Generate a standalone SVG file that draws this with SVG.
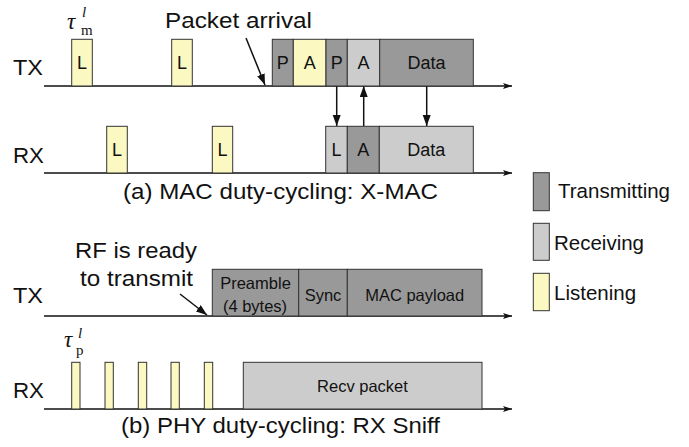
<svg xmlns="http://www.w3.org/2000/svg" width="689" height="447" viewBox="0 0 689 447">
<style>
.lbl{font-family:"Liberation Sans",Arial,sans-serif;font-size:22.5px;fill:#111}
.bx{font-family:"Liberation Sans",Arial,sans-serif;font-size:18px;fill:#111;text-anchor:middle}
.sm{font-family:"Liberation Sans",Arial,sans-serif;font-size:16.5px;fill:#111;text-anchor:middle}
.leg{font-family:"Liberation Sans",Arial,sans-serif;font-size:20.5px;fill:#111}
.tx{fill:#999999;stroke:#333;stroke-width:1}
.rx{fill:#cccccc;stroke:#333;stroke-width:1}
.ls{fill:#fbf8c2;stroke:#333;stroke-width:1}
.tl{stroke:#111;stroke-width:1.3;fill:none}
.ar{stroke:#111;stroke-width:1.5;fill:none}
.mt{font-family:"Liberation Serif","Times New Roman",serif;fill:#111}
</style>
<defs>
<marker id="tlh" markerUnits="userSpaceOnUse" markerWidth="10" markerHeight="8" refX="9" refY="3" orient="auto">
<path d="M0,0 L9,3 L0,6 L2,3 z" fill="#111"/>
</marker>
<marker id="ah" markerUnits="userSpaceOnUse" markerWidth="12" markerHeight="10" refX="11" refY="4" orient="auto">
<path d="M0,0 L11,4 L0,8 z" fill="#111"/>
</marker>
</defs>

<g id="connectors">
<line class="tl" x1="44" y1="86" x2="512" y2="86" marker-end="url(#tlh)"/>
<line class="tl" x1="44" y1="173" x2="512" y2="173" marker-end="url(#tlh)"/>
<line class="tl" x1="44" y1="316" x2="512" y2="316" marker-end="url(#tlh)"/>
<line class="tl" x1="44" y1="409" x2="512" y2="409" marker-end="url(#tlh)"/>
<line class="ar" x1="336.7" y1="86" x2="336.7" y2="126" marker-end="url(#ah)"/>
<line class="ar" x1="363.7" y1="126" x2="363.7" y2="86" marker-end="url(#ah)"/>
<line class="ar" x1="426.7" y1="86" x2="426.7" y2="126" marker-end="url(#ah)"/>
<line class="ar" x1="246" y1="38" x2="265" y2="85" marker-end="url(#ah)"/>
<line class="ar" x1="180" y1="294" x2="207" y2="315" marker-end="url(#ah)"/>
</g>

<g id="labels">
<text class="lbl" x="13" y="75" textLength="30" lengthAdjust="spacingAndGlyphs">TX</text>
<text class="lbl" x="13" y="163" textLength="31" lengthAdjust="spacingAndGlyphs">RX</text>
<text class="lbl" x="13" y="303" textLength="30" lengthAdjust="spacingAndGlyphs">TX</text>
<text class="lbl" x="13" y="398" textLength="31" lengthAdjust="spacingAndGlyphs">RX</text>
<text class="lbl" x="165" y="28" textLength="147" lengthAdjust="spacingAndGlyphs">Packet arrival</text>
<text class="lbl" x="75" y="258" textLength="122" lengthAdjust="spacingAndGlyphs">RF is ready</text>
<text class="lbl" x="80" y="286" textLength="113" lengthAdjust="spacingAndGlyphs">to transmit</text>
<text class="lbl" x="123" y="199" textLength="315" lengthAdjust="spacingAndGlyphs">(a) MAC duty-cycling: X-MAC</text>
<text class="lbl" x="121" y="433" textLength="319" lengthAdjust="spacingAndGlyphs">(b) PHY duty-cycling: RX Sniff</text>
</g>

<g id="tau-m">
<text class="mt" x="67" y="29" font-size="23" font-style="italic">τ</text>
<text class="mt" x="82" y="17" font-size="15" font-style="italic">l</text>
<text class="mt" x="81" y="35" font-size="15">m</text>
</g>
<g id="tau-p">
<text class="mt" x="64" y="347" font-size="23" font-style="italic">τ</text>
<text class="mt" x="78" y="338" font-size="15" font-style="italic">l</text>
<text class="mt" x="76" y="355" font-size="15">p</text>
</g>

<g id="mac-tx-listen">
<rect class="ls" x="71.7" y="39.3" width="20.6" height="46.7"/><text class="bx" x="82" y="69">L</text>
<rect class="ls" x="171.7" y="39.3" width="20.6" height="46.7"/><text class="bx" x="182" y="69">L</text>
</g>
<g id="mac-tx-packet">
<rect class="tx" x="272.3" y="39.3" width="21" height="46.7"/><text class="bx" x="282.8" y="69">P</text>
<rect class="ls" x="293.3" y="39.3" width="32.7" height="46.7"/><text class="bx" x="309.7" y="69">A</text>
<rect class="tx" x="326" y="39.3" width="21.3" height="46.7"/><text class="bx" x="336.7" y="69">P</text>
<rect class="rx" x="347.3" y="39.3" width="32.4" height="46.7"/><text class="bx" x="363.5" y="69">A</text>
<rect class="tx" x="379.7" y="39.3" width="93.6" height="46.7"/><text class="bx" x="426.5" y="69">Data</text>
</g>
<g id="mac-rx-listen">
<rect class="ls" x="106.7" y="126.3" width="20.6" height="46.7"/><text class="bx" x="117" y="156">L</text>
<rect class="ls" x="212.3" y="126.3" width="20.4" height="46.7"/><text class="bx" x="222.5" y="156">L</text>
</g>
<g id="mac-rx-packet">
<rect class="rx" x="325.7" y="126.3" width="21.6" height="46.7"/><text class="bx" x="336.5" y="156">L</text>
<rect class="tx" x="347.3" y="126.3" width="32" height="46.7"/><text class="bx" x="363.3" y="156">A</text>
<rect class="rx" x="379.3" y="126.3" width="94" height="46.7"/><text class="bx" x="426.3" y="156">Data</text>
</g>

<g id="legend">
<rect class="tx" x="533.3" y="172.7" width="16" height="38"/><text class="leg" x="558" y="198">Transmitting</text>
<rect class="rx" x="533.3" y="223.3" width="16" height="37"/><text class="leg" x="554" y="250">Receiving</text>
<rect class="ls" x="533.3" y="273.3" width="16" height="37.4"/><text class="leg" x="554" y="300">Listening</text>
</g>

<g id="phy-tx">
<rect class="tx" x="212.3" y="269.3" width="86.4" height="46.7"/><text class="sm" x="255.5" y="289">Preamble</text><text class="sm" x="255" y="311.5">(4 bytes)</text>
<rect class="tx" x="298.7" y="269.3" width="48.6" height="46.7"/><text class="sm" x="323" y="300.5">Sync</text>
<rect class="tx" x="347.3" y="269.3" width="134.7" height="46.7"/><text class="sm" x="414.7" y="300.5">MAC payload</text>
</g>
<g id="phy-rx">
<rect class="ls" x="71.7" y="362.3" width="8.3" height="46.7"/>
<rect class="ls" x="105" y="362.3" width="8.3" height="46.7"/>
<rect class="ls" x="138.3" y="362.3" width="8.4" height="46.7"/>
<rect class="ls" x="171" y="362.3" width="8.3" height="46.7"/>
<rect class="ls" x="204.3" y="362.3" width="8.4" height="46.7"/>
<rect class="rx" x="243.3" y="362.3" width="238.7" height="46.7"/><text class="sm" x="362.5" y="392">Recv packet</text>
</g>
</svg>
